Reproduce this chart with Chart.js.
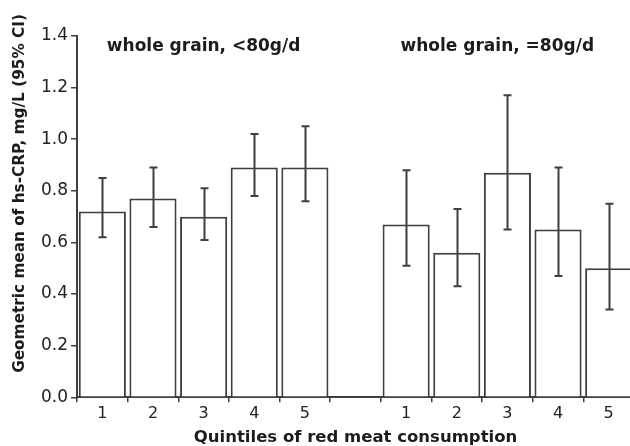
<!DOCTYPE html>
<html>
<head>
<meta charset="utf-8">
<script src="https://cdn.jsdelivr.net/npm/chart.js@4.4.0/dist/chart.umd.min.js"></script>
<style>
  html, body { margin: 0; padding: 0; background: #ffffff; overflow: hidden; }
  #wrap { width: 640px; height: 446px; }
</style>
</head>
<body>
<div id="wrap"><canvas id="c" width="640" height="446"></canvas></div>
<script>
// ---- data ----
const categories = ['1', '2', '3', '4', '5', '', '1', '2', '3', '4', '5'];
const geoMeans   = [0.72, 0.77, 0.70, 0.89, 0.89, null, 0.67, 0.56, 0.87, 0.65, 0.50];
const ciLower    = [0.62, 0.66, 0.61, 0.78, 0.76, null, 0.51, 0.43, 0.65, 0.47, 0.34];
const ciUpper    = [0.85, 0.89, 0.81, 1.02, 1.05, null, 0.88, 0.73, 1.17, 0.89, 0.75];
const yTickValues = [0.0, 0.2, 0.4, 0.6, 0.8, 1.0, 1.2, 1.4];
const groupLabels = ['whole grain, <80g/d', 'whole grain, =80g/d'];
const groupLabelIndex = [2, 7.8];
const yTitle = 'Geometric mean of hs-CRP, mg/L (95% CI)';
const xTitle = 'Quintiles of red meat consumption';

const LINE = '#3f3f3f';
const TEXT = '#1c1c1c';
const FONT = "'DejaVu Sans', sans-serif";

const errorBars = {
  id: 'errorBars',
  afterDatasetsDraw(chart) {
    const meta = chart.getDatasetMeta(0);
    const y = chart.scales.y;
    const ctx = chart.ctx;
    ctx.save();
    ctx.strokeStyle = LINE;
    ctx.lineWidth = 2;
    meta.data.forEach((bar, i) => {
      if (geoMeans[i] == null) return;
      const x = Math.round(bar.x) + 0.5;
      const lo = y.getPixelForValue(ciLower[i]);
      const hi = y.getPixelForValue(ciUpper[i]);
      ctx.beginPath();
      ctx.moveTo(x, lo); ctx.lineTo(x, hi);
      ctx.moveTo(x - 4, lo); ctx.lineTo(x + 4, lo);
      ctx.moveTo(x - 4, hi); ctx.lineTo(x + 4, hi);
      ctx.stroke();
    });
    ctx.restore();
  }
};

const textLabels = {
  id: 'textLabels',
  afterDraw(chart) {
    const ctx = chart.ctx;
    const xs = chart.scales.x, ys = chart.scales.y;
    ctx.save();
    ctx.fillStyle = TEXT;
    ctx.font = "bold 17px " + FONT;
    ctx.textAlign = 'center';
    ctx.textBaseline = 'middle';
    groupLabels.forEach((t, k) => {
      ctx.fillText(t, xs.getPixelForValue(groupLabelIndex[k]), ys.getPixelForValue(1.36));
    });
    // y-axis title (rotated), placed as in the reference
    ctx.font = "bold 15.3px " + FONT;
    ctx.translate(20, ys.getPixelForValue(0.79));
    ctx.rotate(-Math.PI / 2);
    ctx.fillText(yTitle, 0, 0);
    ctx.restore();
  }
};

new Chart(document.getElementById('c'), {
  type: 'bar',
  data: {
    labels: categories,
    datasets: [{
      data: geoMeans,
      backgroundColor: '#ffffff',
      borderColor: LINE,
      borderWidth: 2,
      borderSkipped: 'start',
      barPercentage: 0.93,
      categoryPercentage: 1.0
    }]
  },
  options: {
    responsive: false,
    animation: false,
    events: [],
    layout: { padding: { top: 36, right: 6, left: 38, bottom: 0 } },
    plugins: { legend: { display: false }, tooltip: { enabled: false } },
    scales: {
      x: {
        offset: true,
        grid: { offset: true, drawOnChartArea: false, drawTicks: true, tickLength: 5, color: LINE, lineWidth: 1.5 },
        border: { display: true, color: LINE, width: 2 },
        ticks: { color: '#222', font: { family: FONT, size: 16 }, padding: 2, maxRotation: 0, autoSkip: false },
        title: { display: true, text: xTitle, color: TEXT, font: { family: FONT, size: 16.5, weight: 'bold', lineHeight: 1.0 }, padding: { top: 4, bottom: 0 } }
      },
      y: {
        min: 0, max: 1.4,
        afterBuildTicks(axis) { axis.ticks = yTickValues.map(v => ({ value: v })); },
        grid: { drawOnChartArea: false, drawTicks: true, tickLength: 6, color: LINE, lineWidth: 1.5 },
        border: { display: true, color: LINE, width: 2 },
        ticks: { color: '#222', font: { family: FONT, size: 17 }, padding: 3, callback: v => Number(v).toFixed(1) },
        title: { display: false }
      }
    }
  },
  plugins: [errorBars, textLabels]
});
</script>
</body>
</html>
